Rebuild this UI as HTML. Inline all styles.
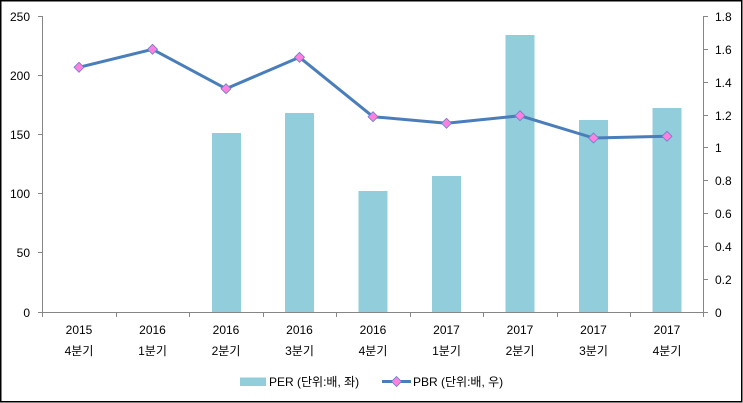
<!DOCTYPE html>
<html><head><meta charset="utf-8"><style>
html,body{margin:0;padding:0;background:#fff;}
svg{display:block;}
text{font-family:"Liberation Sans","Noto Sans CJK KR",sans-serif;font-size:12px;fill:#000;}
</style></head><body>
<svg width="743" height="403" viewBox="0 0 743 403" xmlns="http://www.w3.org/2000/svg">
<rect x="0.75" y="0.75" width="741" height="401" fill="#fff" stroke="#000" stroke-width="1.5"/>
<!-- bars -->
<g fill="#92CDDC">
<rect x="212" y="133" width="29" height="179"/>
<rect x="285" y="113" width="29" height="199"/>
<rect x="358.5" y="191" width="29" height="121"/>
<rect x="432" y="176" width="29" height="136"/>
<rect x="505.5" y="35" width="29" height="277"/>
<rect x="579" y="120" width="29" height="192"/>
<rect x="652.5" y="108" width="29" height="204"/>
</g>
<!-- axes -->
<g stroke="#868686" stroke-width="1" fill="none">
<line x1="42.5" y1="16" x2="42.5" y2="313"/>
<line x1="703.5" y1="16" x2="703.5" y2="313"/>
<line x1="42" y1="312.5" x2="704" y2="312.5"/>
<line x1="38" y1="16.5" x2="42" y2="16.5"/>
<line x1="38" y1="75.5" x2="42" y2="75.5"/>
<line x1="38" y1="134.5" x2="42" y2="134.5"/>
<line x1="38" y1="193.5" x2="42" y2="193.5"/>
<line x1="38" y1="252.5" x2="42" y2="252.5"/>
<line x1="38" y1="312.5" x2="42" y2="312.5"/>
<line x1="704" y1="16.5" x2="708" y2="16.5"/>
<line x1="704" y1="49.5" x2="708" y2="49.5"/>
<line x1="704" y1="82.5" x2="708" y2="82.5"/>
<line x1="704" y1="115.5" x2="708" y2="115.5"/>
<line x1="704" y1="147.5" x2="708" y2="147.5"/>
<line x1="704" y1="180.5" x2="708" y2="180.5"/>
<line x1="704" y1="213.5" x2="708" y2="213.5"/>
<line x1="704" y1="246.5" x2="708" y2="246.5"/>
<line x1="704" y1="279.5" x2="708" y2="279.5"/>
<line x1="704" y1="312.5" x2="708" y2="312.5"/>
<line x1="42.5" y1="312" x2="42.5" y2="317"/>
<line x1="116.5" y1="312" x2="116.5" y2="317"/>
<line x1="189.5" y1="312" x2="189.5" y2="317"/>
<line x1="263.5" y1="312" x2="263.5" y2="317"/>
<line x1="336.5" y1="312" x2="336.5" y2="317"/>
<line x1="410.5" y1="312" x2="410.5" y2="317"/>
<line x1="483.5" y1="312" x2="483.5" y2="317"/>
<line x1="557.5" y1="312" x2="557.5" y2="317"/>
<line x1="630.5" y1="312" x2="630.5" y2="317"/>
<line x1="703.5" y1="312" x2="703.5" y2="317"/>
</g>
<!-- left labels -->
<g text-anchor="end">
<text x="30" y="21">250</text>
<text x="30" y="80">200</text>
<text x="30" y="139">150</text>
<text x="30" y="198">100</text>
<text x="30" y="257">50</text>
<text x="30" y="317">0</text>
</g>
<!-- right labels -->
<g text-anchor="start">
<text x="715" y="21">1.8</text>
<text x="715" y="54">1.6</text>
<text x="715" y="87">1.4</text>
<text x="715" y="120">1.2</text>
<text x="715" y="152">1</text>
<text x="715" y="185">0.8</text>
<text x="715" y="218">0.6</text>
<text x="715" y="251">0.4</text>
<text x="715" y="284">0.2</text>
<text x="715" y="317">0</text>
</g>
<!-- x labels -->
<g text-anchor="middle">
<text x="79" y="334">2015</text><text x="79" y="355">4분기</text>
<text x="152.5" y="334">2016</text><text x="152.5" y="355">1분기</text>
<text x="226" y="334">2016</text><text x="226" y="355">2분기</text>
<text x="299.5" y="334">2016</text><text x="299.5" y="355">3분기</text>
<text x="373" y="334">2016</text><text x="373" y="355">4분기</text>
<text x="446.5" y="334">2017</text><text x="446.5" y="355">1분기</text>
<text x="520" y="334">2017</text><text x="520" y="355">2분기</text>
<text x="593.5" y="334">2017</text><text x="593.5" y="355">3분기</text>
<text x="667" y="334">2017</text><text x="667" y="355">4분기</text>
</g>
<!-- line -->
<polyline points="79,67.3 152.5,49.3 226,88.7 299.5,57.3 373,116.7 446.5,123.3 520,115.7 593.5,138 667,136.3" fill="none" stroke="#4A7EBB" stroke-width="3" stroke-linejoin="round"/>
<g fill="#FF80E0" stroke="#6A7FC8" stroke-width="0.8">
<polygon points="79,62.3 84,67.3 79,72.3 74,67.3"/>
<polygon points="152.5,44.3 157.5,49.3 152.5,54.3 147.5,49.3"/>
<polygon points="226,83.7 231,88.7 226,93.7 221,88.7"/>
<polygon points="299.5,52.3 304.5,57.3 299.5,62.3 294.5,57.3"/>
<polygon points="373,111.7 378,116.7 373,121.7 368,116.7"/>
<polygon points="446.5,118.3 451.5,123.3 446.5,128.3 441.5,123.3"/>
<polygon points="520,110.7 525,115.7 520,120.7 515,115.7"/>
<polygon points="593.5,133 598.5,138 593.5,143 588.5,138"/>
<polygon points="667,131.3 672,136.3 667,141.3 662,136.3"/>
</g>
<!-- legend -->
<rect x="240" y="377.5" width="26" height="8.5" fill="#92CDDC"/>
<text x="269" y="386">PER (단위:배, 좌)</text>
<line x1="382" y1="381.5" x2="411" y2="381.5" stroke="#4A7EBB" stroke-width="3"/>
<polygon points="396.5,376.5 401.5,381.5 396.5,386.5 391.5,381.5" fill="#FF80E0" stroke="#6A7FC8" stroke-width="0.8"/>
<text x="413" y="386">PBR (단위:배, 우)</text>
</svg>
</body></html>
